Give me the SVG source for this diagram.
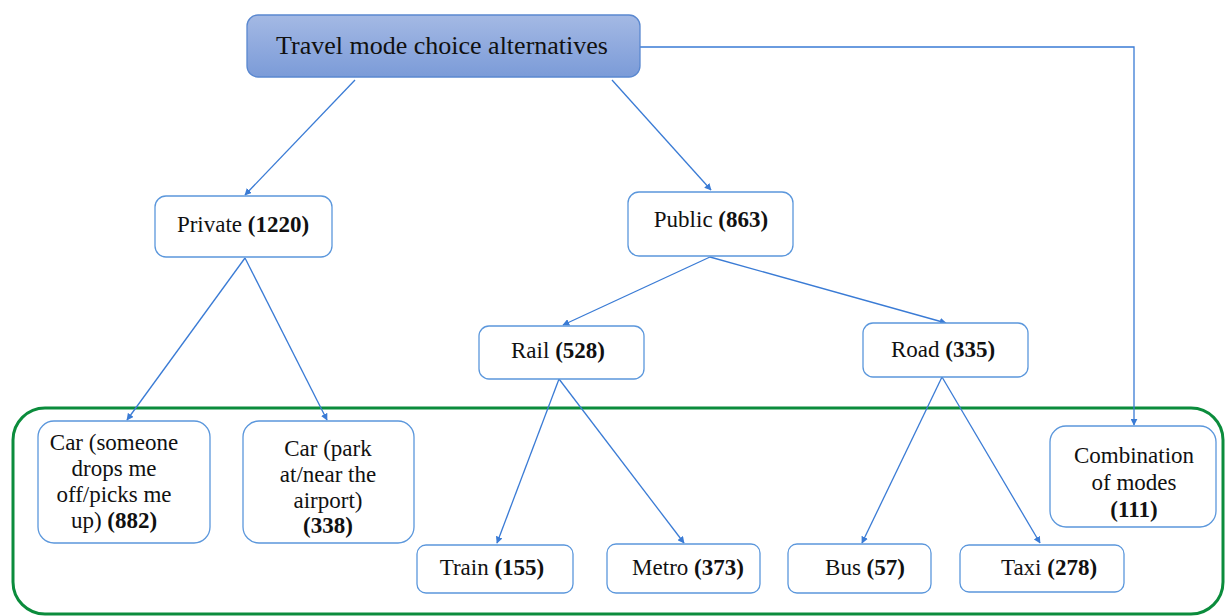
<svg xmlns="http://www.w3.org/2000/svg" width="1226" height="616" viewBox="0 0 1226 616">
<defs>
<linearGradient id="topg" x1="0" y1="0" x2="0" y2="1">
<stop offset="0" stop-color="#a4b9e4"/>
<stop offset="1" stop-color="#7b9bd8"/>
</linearGradient>
<marker id="arr" viewBox="0 0 10 10" refX="9" refY="5" markerWidth="7" markerHeight="7" orient="auto" markerUnits="userSpaceOnUse">
<path d="M0,0 L10,5 L0,10 z" fill="#3a7bd5"/>
</marker>
<style>
.box{fill:#fff;stroke:#5b97dc;stroke-width:1.3}
text{font-family:'Liberation Serif','DejaVu Serif','Times New Roman',serif;fill:#111;text-anchor:middle}
.t{font-size:23px}
.tt{font-size:26px}
.b{font-weight:bold}
.c{fill:none;stroke:#3a7bd5;stroke-width:1.3;marker-end:url(#arr)}
</style>
</defs>
<rect width="1226" height="616" fill="#fff"/>
<rect id="group-frame" x="13" y="408" width="1210" height="206" rx="32" fill="none" stroke="#0b8c3c" stroke-width="3"/>
<g id="connectors">
<path class="c" d="M355,80 L245,195"/>
<path class="c" d="M612,80 L711,190"/>
<path class="c" d="M640,47 L1134,47 L1134,425"/>
<path class="c" d="M245,258 L127,420"/>
<path class="c" d="M245,258 L327,420"/>
<path class="c" d="M710,257 L563,325"/>
<path class="c" d="M710,257 L946,323"/>
<path class="c" d="M559,379 L497,543"/>
<path class="c" d="M559,379 L684,543"/>
<path class="c" d="M942,377 L862,543"/>
<path class="c" d="M942,377 L1040,543"/>
</g>
<g id="top">
<rect x="247" y="15" width="393" height="62" rx="11" fill="url(#topg)" stroke="#5a88d0" stroke-width="1.3"/>
<text class="tt" x="442" y="54" font-family="Liberation Serif, serif">Travel mode choice alternatives</text>
</g>
<g id="private">
<rect class="box" x="155" y="196" width="177" height="61" rx="11"/>
<text class="t" x="243" y="232">Private <tspan class="b">(1220)</tspan></text>
</g>
<g id="public">
<rect class="box" x="628" y="192" width="165" height="64" rx="11"/>
<text class="t" x="711" y="227">Public <tspan class="b">(863)</tspan></text>
</g>
<g id="rail">
<rect class="box" x="479" y="326" width="165" height="53" rx="10"/>
<text class="t" x="558" y="358">Rail <tspan class="b">(528)</tspan></text>
</g>
<g id="road">
<rect class="box" x="863" y="323" width="165" height="54" rx="10"/>
<text class="t" x="943" y="357">Road <tspan class="b">(335)</tspan></text>
</g>
<g id="car-dropoff">
<rect class="box" x="38" y="421" width="172" height="122" rx="16"/>
<text class="t" x="114" y="450">Car (someone</text>
<text class="t" x="114" y="476">drops me</text>
<text class="t" x="114" y="502">off/picks me</text>
<text class="t" x="114" y="528">up) <tspan class="b">(882)</tspan></text>
</g>
<g id="car-park">
<rect class="box" x="243" y="421" width="171" height="122" rx="16"/>
<text class="t" x="328" y="456">Car (park</text>
<text class="t" x="328" y="482">at/near the</text>
<text class="t" x="328" y="508">airport)</text>
<text class="t b" x="328" y="533">(338)</text>
</g>
<g id="combination">
<rect class="box" x="1050" y="426" width="166" height="101" rx="16"/>
<text class="t" x="1134" y="463">Combination</text>
<text class="t" x="1134" y="490">of modes</text>
<text class="t b" x="1134" y="517">(111)</text>
</g>
<g id="train">
<rect class="box" x="417" y="545" width="156" height="48" rx="9"/>
<text class="t" x="492" y="575">Train <tspan class="b">(155)</tspan></text>
</g>
<g id="metro">
<rect class="box" x="607" y="544" width="153" height="49" rx="9"/>
<text class="t" x="688" y="575">Metro <tspan class="b">(373)</tspan></text>
</g>
<g id="bus">
<rect class="box" x="788" y="544" width="143" height="49" rx="9"/>
<text class="t" x="865" y="575">Bus <tspan class="b">(57)</tspan></text>
</g>
<g id="taxi">
<rect class="box" x="960" y="545" width="164" height="47" rx="9"/>
<text class="t" x="1049" y="575">Taxi <tspan class="b">(278)</tspan></text>
</g>
</svg>
